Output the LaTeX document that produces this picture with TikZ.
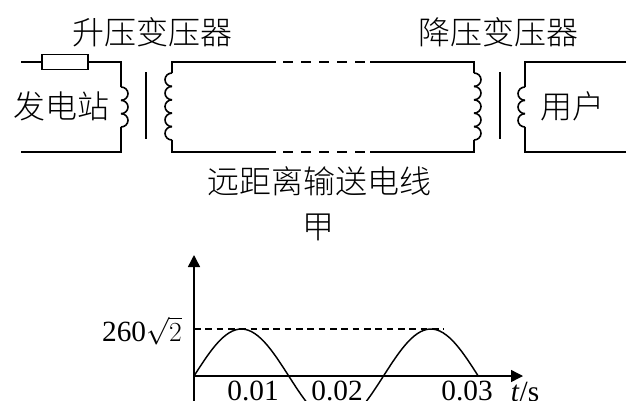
\documentclass[tikz,border=0pt]{standalone}
\usepackage{fontspec}
\setmainfont{Liberation Serif}
\newfontfamily\cjk{Noto Sans CJK SC Light}
\usetikzlibrary{arrows.meta}
\usetikzlibrary{calc}
\tikzset{
  wire/.style = {line width=1.2pt},
  hanzi/.style = {font=\cjk\fontsize{24}{26}\selectfont, inner sep=0pt, outer sep=0pt},
  tick/.style = {font=\fontsize{22}{24}\selectfont, inner sep=0pt, outer sep=0pt},
  axis/.style = {line width=1.1pt, -{Triangle[length=9pt,width=9pt]}}
}
% one bump of a winding per loop, #2 is the side it bulges to
\newcommand{\windup}[4]{%
  \foreach \k in {1,...,#3} {
    \draw[wire] ($(#1)+(0,{(\k-1)*#4})$) arc[start angle=-90, delta angle=#2, x radius=7, y radius={#4/2}];
  }
}
\begin{document}
\begin{tikzpicture}[x=0.75pt,y=-0.75pt]
  \useasboundingbox (0,0) rectangle (641,400);
  \fill[white] (0,0) rectangle (641,400);
  % transformers and wires
  \node[draw, wire, minimum width=34.5pt, minimum height=11.5pt, inner sep=0pt] (res) at (65,62) {};
  \coordinate (ltop) at (21,62);
  \coordinate (lbot) at (21,152);
  \coordinate (a1) at (121,62);
  \coordinate (a2) at (121,87);
  \coordinate (a3) at (121,127);
  \coordinate (a4) at (121,152);
  \coordinate (b1) at (172,62);
  \coordinate (b2) at (172,73);
  \coordinate (b3) at (172,140);
  \coordinate (b4) at (172,152);
  \coordinate (c1) at (474,62);
  \coordinate (c2) at (474,73);
  \coordinate (c3) at (474,140);
  \coordinate (c4) at (474,152);
  \coordinate (d1) at (525,62);
  \coordinate (d2) at (525,87);
  \coordinate (d3) at (525,127);
  \coordinate (d4) at (525,152);
  \coordinate (e1) at (626,62);
  \coordinate (e4) at (626,152);
  \coordinate (g1) at (276,62);
  \coordinate (g2) at (370,62);
  \coordinate (g3) at (276,152);
  \coordinate (g4) at (370,152);
  \draw[wire] (ltop) -- (res);
  \draw[wire] (res) -- (a1) -- (a2);
  \draw[wire] (a3) -- (a4) -- (lbot);
  \draw[wire] (b2) -- (b1) -- (g1);
  \draw[wire] (b3) -- (b4) -- (g3);
  \draw[wire] (g2) -- (c1) -- (c2);
  \draw[wire] (g4) -- (c4) -- (c3);
  \draw[wire] (e1) -- (d1) -- (d2);
  \draw[wire] (e4) -- (d4) -- (d3);
  \draw[wire, dash pattern=on 7.5pt off 6pt] (g1) ++(7,0) -- (g2);
  \draw[wire, dash pattern=on 7.5pt off 6pt] (g3) ++(7,0) -- (g4);
  \windup{a2}{180}{3}{13.33}
  \windup{b2}{-180}{5}{13.4}
  \windup{c2}{180}{5}{13.4}
  \windup{d2}{-180}{3}{13.33}
  \coordinate (core1a) at (146,72);
  \coordinate (core1b) at (146,139);
  \coordinate (core2a) at (500,72);
  \coordinate (core2b) at (500,139);
  \draw[wire] (core1a) -- (core1b);
  \draw[wire] (core2a) -- (core2b);
  \node[hanzi] (up) at (152,32) {升压变压器};
  \node[hanzi] (down) at (498,32) {降压变压器};
  \node[hanzi] (plant) at (61.5,106) {发电站};
  \node[hanzi] (user) at (572,106) {用户};
  \node[hanzi] (line) at (319.5,181) {远距离输送电线};
  \node[hanzi] (jia) at (318,227) {甲};
  % the graph
  \coordinate (O) at (194,376);
  \coordinate (ybot) at (194,410);
  \coordinate (ytop) at (194,255);
  \coordinate (xend) at (523,376);
  \coordinate (dash) at (444,329);
  \coordinate (peak) at (194,329);
  \draw[axis] (ybot) -- (ytop);
  \draw[axis] (O) -- (xend);
  \draw[line width=0.8pt, dash pattern=on 5pt off 3.5pt] (peak) -- (dash);
  \draw[line width=1.1pt, domain=0:284, samples=90, smooth] plot ({194+\x}, {376-47*sin(1.9*\x)});
  \node[tick] (ymax) at (142,331) {260$\sqrt{2}$};
  \node[tick] (t1) at (253,391) {0.01};
  \node[tick] (t2) at (337,391) {0.02};
  \node[tick] (t3) at (467,391) {0.03};
  \node[tick] (tlab) at (525,392) {\textit{t}/s};
\end{tikzpicture}
\end{document}
